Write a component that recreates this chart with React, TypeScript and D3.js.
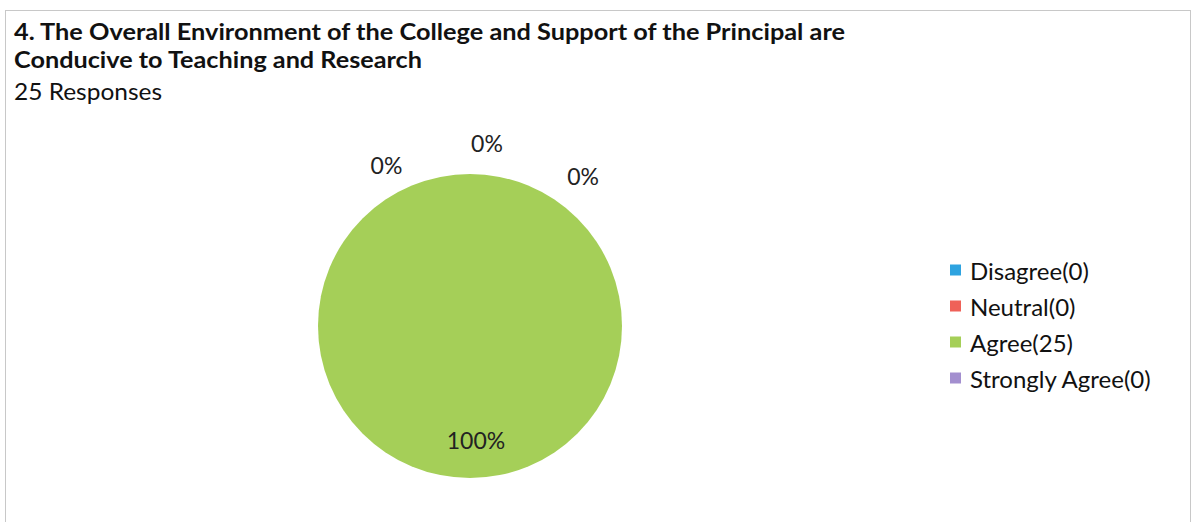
import React from "react";
import * as d3 from "d3";

const categories = ["Disagree", "Neutral", "Agree", "Strongly Agree"];
const counts = [0, 0, 25, 0];
const colors = ["#2ea3e0", "#ef6158", "#a5cf58", "#a38fcf"];
const titleLines = [
  "4. The Overall Environment of the College and Support of the Principal are",
  "Conducive to Teaching and Research",
];
const subtitle = "25 Responses";

// label placement tweaks (angle offset in degrees, radius)
const labelAngleDeg = [-27.5, 5.3, -3, 37];
const labelRadius = [181, 184, 114, 188];

const FONT = "Lato, 'Open Sans', sans-serif";

export default function App() {
  const W = 1194;
  const H = 522;
  const cx = 470;
  const cy = 326;
  const r = 152;
  const total = d3.sum(counts);
  const pie = d3.pie<number>().sort(null).value((d) => d);
  const arcs = pie(counts);
  const arcGen = d3.arc<d3.PieArcDatum<number>>().innerRadius(0).outerRadius(r);
  const fmt = (v: number) => `${Math.round((v / total) * 100)}%`;
  const titleWidths = [831, 408];

  return (
    <div style={{ position: "fixed", left: 0, top: 0 }}>
      <svg width={W} height={H} style={{ display: "block", background: "#fff" }}>
        <rect x={5.5} y={10.5} width={1185} height={530} fill="none" stroke="#c8c8c8" strokeWidth={1} />
        <g fontFamily={FONT} fill="#111">
          {titleLines.map((t, i) => (
            <text key={i} x={14} y={40 + i * 28} fontSize={22.5} fontWeight="bold" textLength={titleWidths[i]} lengthAdjust="spacingAndGlyphs">
              {t}
            </text>
          ))}
          <text x={14} y={100} fontSize={22.5} textLength={148} lengthAdjust="spacingAndGlyphs">
            {subtitle}
          </text>
        </g>
        <g transform={`translate(${cx},${cy})`}>
          {arcs.map((a, i) =>
            a.endAngle - a.startAngle > 0 ? (
              <path key={i} d={arcGen(a) || ""} fill={colors[i]} />
            ) : null
          )}
          {arcs.map((a, i) => {
            const mid = (a.startAngle + a.endAngle) / 2 + (labelAngleDeg[i] * Math.PI) / 180;
            const lr = labelRadius[i];
            const x = Math.sin(mid) * lr;
            const y = -Math.cos(mid) * lr;
            return (
              <text
                key={i}
                x={x}
                y={y}
                textAnchor="middle"
                dominantBaseline="central"
                fontFamily={FONT}
                fontSize={23}
                fill="#222"
              >
                {fmt(counts[i])}
              </text>
            );
          })}
        </g>
        <g fontFamily={FONT} fontSize={24} fill="#111">
          {categories.map((c, i) => {
            const y = 270 + i * 36;
            return (
              <g key={c}>
                <rect x={950} y={y - 5.5} width={11} height={11} fill={colors[i]} />
                <text x={970} y={y} dominantBaseline="central">
                  {`${c}(${counts[i]})`}
                </text>
              </g>
            );
          })}
        </g>
      </svg>
    </div>
  );
}
